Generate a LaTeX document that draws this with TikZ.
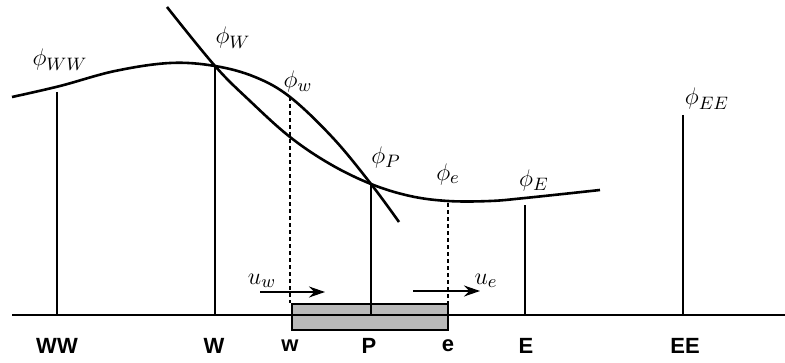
\documentclass[tikz,border=0pt]{standalone}
\usepackage{fontspec}
\newfontfamily\gridfont{Liberation Sans}
\usepackage{tikz}
\usetikzlibrary{arrows.meta}

\begin{document}
\begin{tikzpicture}[x=0.5pt,y=-0.5pt,
        curve/.style={line width=1.3pt},
        gridline/.style={line width=0.8pt},
        faceline/.style={line width=0.8pt, dash pattern=on 2pt off 1.5pt},
        vel/.style={line width=0.8pt, -{Stealth[length=8pt,width=5.5pt]}},
        pt/.style={font=\gridfont\bfseries\fontsize{11}{13}\selectfont},
        val/.style={font=\fontsize{13}{15}\selectfont}]
        \useasboundingbox (0,0) rectangle (785,363);
        % points where the two curves cross
        \coordinate (W top) at (215,66);
        \coordinate (P top) at (371,184);
        \coordinate (WW top) at (57,92);
        \coordinate (w top) at (290,97);
        \coordinate (e top) at (448,203);
        \coordinate (E top) at (525,205);
        \coordinate (EE top) at (683,115);
        % control volume
        \node[draw, line width=0.6pt, fill=gray!55, minimum width=78pt, minimum height=13pt, inner sep=0pt] (cv) at (370,317) {};
        % grid line
        \coordinate (axis l) at (12,315);
        \coordinate (axis r) at (785,315);
        \draw[line width=1.2pt] (axis l) -- (axis r);
        \coordinate (WW bot) at (57,315);
        \coordinate (W bot) at (215,315);
        \coordinate (P bot) at (371,315);
        \coordinate (E bot) at (525,315);
        \coordinate (EE bot) at (683,315);
        \draw[gridline] (WW top) -- (WW bot);
        \draw[gridline] (W top) -- (W bot);
        \draw[gridline] (P top) -- (P bot);
        \draw[gridline] (E top) -- (E bot);
        \draw[gridline] (EE top) -- (EE bot);
        \draw[faceline] (w top) -- (w top |- cv.north);
        \draw[faceline] (e top) -- (e top |- cv.north);
        % the two profiles
        \draw[curve] plot[smooth, tension=0.6] coordinates {(12,97) (60,86) (115,71) (170,63) (W top) (255,77) (w top) (333,138) (P top) (399,222)};
        \draw[curve] plot[smooth, tension=0.6] coordinates {(167,7) (W top) (250,101) (290,137) (330,164) (P top) (410,196) (448,201) (490,201) (525,198) (600,190)};
        % velocities
        \coordinate (uw tail) at (260,292);
        \coordinate (uw head) at (325,292);
        \coordinate (ue tail) at (413,291);
        \coordinate (ue head) at (480,291);
        \draw[vel] (uw tail) -- (uw head);
        \draw[vel] (ue tail) -- (ue head);
        \node[val] (uw) at (262,281) {$u_w$};
        \node[val] (ue) at (486,281) {$u_e$};
        % values
        \node[val] (phiWW) at (60,60) {$\phi_{WW}$};
        \node[val] (phiW) at (233,38) {$\phi_W$};
        \node[val] (phiw) at (298,82) {$\phi_w$};
        \node[val] (phiP) at (386,157) {$\phi_P$};
        \node[val] (phie) at (448,174) {$\phi_e$};
        \node[val] (phiE) at (534,180) {$\phi_E$};
        \node[val] (phiEE) at (707,99) {$\phi_{EE}$};
        % node names
        \node[pt] (lWW) at (57,346) {WW};
        \node[pt] (lW) at (214,346) {W};
        \node[pt] (lw) at (290,346) {w};
        \node[pt] (lP) at (369,346) {P};
        \node[pt] (le) at (448,346) {e};
        \node[pt] (lE) at (526,346) {E};
        \node[pt] (lEE) at (685,346) {EE};
\end{tikzpicture}
\end{document}
